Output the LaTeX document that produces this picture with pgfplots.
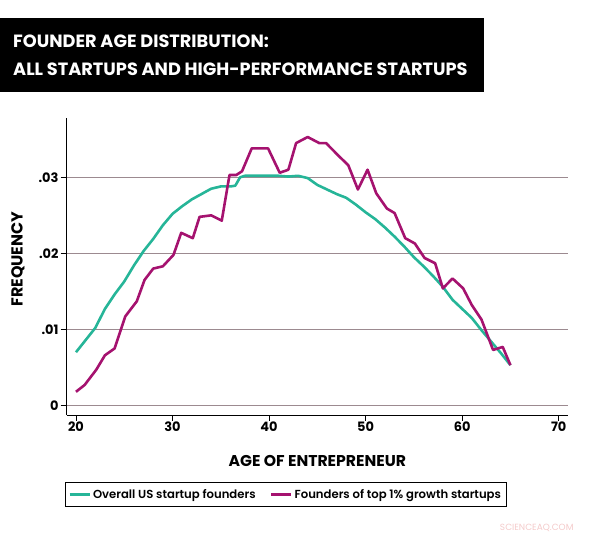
\documentclass[border=0pt]{standalone}
\usepackage{pgfplots}
\pgfplotsset{compat=1.18}
\usepackage{fontspec}
\setmainfont{Poppins}
\newfontfamily\popmed{Poppins SemiBold}
\definecolor{teal1}{HTML}{26B598}
\definecolor{purp1}{HTML}{A5126F}
\definecolor{gridc}{HTML}{9C8A90}
\definecolor{wm}{HTML}{F4CACA}
\begin{document}
\begin{tikzpicture}
\path[use as bounding box] (0bp,0bp) rectangle (593bp,535bp);
\fill[black] (0bp,517bp) rectangle (484bp,443bp);
\node[anchor=base west, white, inner sep=0pt, font=\bfseries\fontsize{17.8}{20}\selectfont] at (13bp,487bp) {FOUNDER AGE DISTRIBUTION:};
\node[anchor=base west, white, inner sep=0pt, font=\bfseries\fontsize{17.8}{20}\selectfont] at (13bp,459bp) {ALL STARTUPS AND HIGH-PERFORMANCE STARTUPS};
\begin{axis}[
  at={(66.7bp,417bp)}, anchor=north west,
  scale only axis, width=501.3bp, height=297bp,
  xmin=19.04, xmax=70.96, ymin=-0.00125, ymax=0.0378,
  axis x line=bottom, axis y line=left,
  axis line style={-, line width=0.9bp},
  xtick={20,30,40,50,60,70},
  ytick={0,0.01,0.02,0.03}, yticklabels={0,.01,.02,.03},
  scaled y ticks=false,
  tick align=outside, major tick length=6bp,
  tick style={black, line width=0.8bp},
  ymajorgrids, grid style={gridc, line width=0.8bp},
  /pgf/number format/assume math mode=true,
  ticklabel style={font=\bfseries\fontsize{13}{15}\selectfont},
  xticklabel style={inner sep=1bp},
  yticklabel style={inner sep=2bp},
  xlabel={AGE OF ENTREPRENEUR},
  ylabel={FREQUENCY},
  xlabel style={at={(axis description cs:0.5,-0.155)}, anchor=center, font=\bfseries\fontsize{15.7}{18}\selectfont},
  ylabel style={at={(axis description cs:-0.0971,0.525)}, anchor=center, font=\bfseries\fontsize{16}{18}\selectfont},
  legend columns=2,
  legend style={at={(axis description cs:0.4365,-0.2677)}, anchor=center, draw=black, line width=0.9bp,
    font=\popmed\fontsize{11.7}{14}\selectfont, inner xsep=3bp, inner ysep=5bp,
    /tikz/every even column/.append style={column sep=12bp}},
  legend image code/.code={\draw[#1, line width=3bp] (0,0) -- (20bp,0);},
]
\addplot[teal1, line width=2.6bp, line join=round] coordinates {
(20,0.0070)(21,0.0086)(22,0.0102)(23,0.0127)(24,0.0146)(25,0.0163)(26,0.0184)(27,0.0203)
(28,0.0219)(29,0.0237)(30,0.0252)(31,0.0262)(32,0.0271)(33,0.0278)(34,0.0285)(35,0.0288)
(36,0.0288)(36.5,0.0289)(37,0.0300)(37.5,0.0302)(38,0.0302)(39,0.0302)(40,0.0302)(41,0.0302)
(42,0.0301)(43,0.0302)(44,0.0299)(45,0.0290)(46,0.0284)(47,0.0278)(48,0.0273)(49,0.0264)
(50,0.0254)(51,0.0245)(52,0.0234)(53,0.0222)(54,0.0209)(55,0.0195)(56,0.0183)(57,0.0170)
(58,0.0156)(59,0.0139)(60,0.0127)(61,0.0115)(62,0.0099)(63,0.0084)(64,0.0069)(65,0.0053)
};
\addlegendentry{Overall US startup founders}
\addplot[purp1, line width=2.6bp, line join=round] coordinates {
(20,0.0018)(20.9,0.0027)(22.1,0.0047)(23,0.0066)(24,0.0075)(25.1,0.0117)(26.3,0.0137)
(27.1,0.0165)(28,0.0180)(29,0.0183)(30.1,0.0198)(30.9,0.0227)(32.1,0.0220)(32.8,0.0248)
(34,0.0250)(35.1,0.0243)(35.9,0.0303)(36.6,0.0303)(37.2,0.0308)(38.2,0.0338)(39.9,0.0338)
(41.1,0.0306)(42,0.0310)(42.8,0.0345)(44,0.0353)(45.2,0.0345)(45.9,0.0345)(47.3,0.0327)
(48.2,0.0316)(49.2,0.0284)(50.2,0.0310)(51.1,0.0279)(52.2,0.0259)(53,0.0253)(54.1,0.0220)
(55.1,0.0213)(56.1,0.0194)(57.2,0.0187)(58,0.0154)(59,0.0167)(60.1,0.0154)(61,0.0132)
(62,0.0113)(63.2,0.0073)(64.2,0.0077)(65,0.0053)
};
\addlegendentry{Founders of top 1\% growth startups}
\end{axis}
\node[anchor=east, wm, font=\fontsize{9}{10}\selectfont] at (577bp,7bp) {SCIENCEAQ.COM};
\end{tikzpicture}
\end{document}
